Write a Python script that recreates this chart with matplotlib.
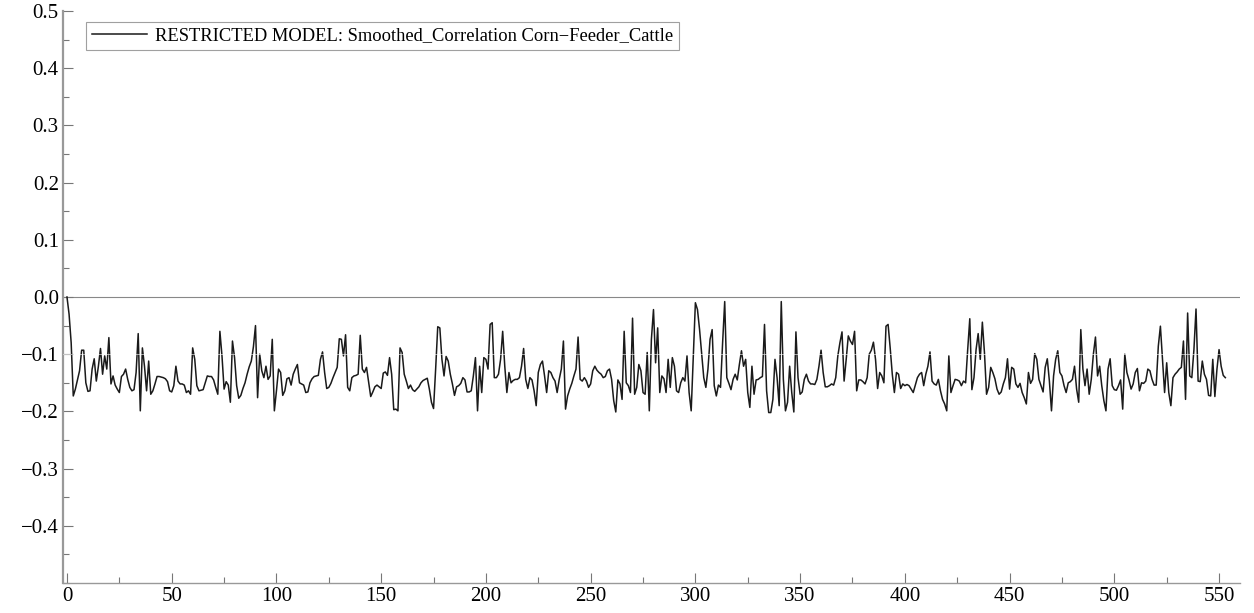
import matplotlib.pyplot as plt
import numpy as np
from matplotlib.ticker import MultipleLocator

plt.rcParams['font.family'] = ['Liberation Serif', 'DejaVu Serif']

series_label = "RESTRICTED MODEL: Smoothed_Correlation Corn\u2212Feeder_Cattle"

corr = [
    0.0, -0.03, -0.08, -0.173, -0.161, -0.145, -0.129, -0.093, -0.093, -0.150,
    -0.165, -0.164, -0.126, -0.108, -0.147, -0.121, -0.090, -0.135, -0.103, -0.126,
    -0.071, -0.152, -0.138, -0.154, -0.161, -0.167, -0.139, -0.135, -0.126, -0.144,
    -0.158, -0.164, -0.162, -0.132, -0.064, -0.199, -0.089, -0.121, -0.164, -0.112,
    -0.170, -0.164, -0.152, -0.139, -0.139, -0.140, -0.141, -0.143, -0.148, -0.164,
    -0.166, -0.155, -0.121, -0.147, -0.152, -0.152, -0.154, -0.167, -0.164, -0.170,
    -0.089, -0.109, -0.155, -0.164, -0.163, -0.162, -0.150, -0.138, -0.139, -0.139,
    -0.145, -0.158, -0.170, -0.060, -0.103, -0.161, -0.148, -0.154, -0.184, -0.077,
    -0.106, -0.155, -0.177, -0.172, -0.160, -0.150, -0.135, -0.122, -0.112, -0.087,
    -0.050, -0.176, -0.100, -0.129, -0.141, -0.121, -0.144, -0.138, -0.074, -0.199,
    -0.164, -0.126, -0.132, -0.172, -0.164, -0.143, -0.141, -0.154, -0.135, -0.126,
    -0.118, -0.150, -0.152, -0.154, -0.167, -0.166, -0.150, -0.143, -0.139, -0.138,
    -0.137, -0.109, -0.096, -0.132, -0.160, -0.158, -0.151, -0.141, -0.132, -0.123,
    -0.073, -0.074, -0.103, -0.066, -0.158, -0.164, -0.141, -0.138, -0.137, -0.135,
    -0.067, -0.126, -0.132, -0.123, -0.148, -0.174, -0.166, -0.157, -0.154, -0.157,
    -0.160, -0.133, -0.131, -0.137, -0.106, -0.135, -0.197, -0.196, -0.199, -0.089,
    -0.097, -0.135, -0.147, -0.160, -0.154, -0.162, -0.165, -0.161, -0.157, -0.150,
    -0.146, -0.144, -0.142, -0.161, -0.184, -0.195, -0.126, -0.052, -0.054, -0.109,
    -0.138, -0.104, -0.112, -0.135, -0.152, -0.172, -0.157, -0.155, -0.151, -0.141,
    -0.145, -0.166, -0.166, -0.164, -0.138, -0.106, -0.199, -0.121, -0.167, -0.106,
    -0.109, -0.126, -0.048, -0.045, -0.141, -0.141, -0.135, -0.109, -0.060, -0.121,
    -0.167, -0.132, -0.150, -0.146, -0.144, -0.144, -0.141, -0.121, -0.090, -0.144,
    -0.160, -0.141, -0.145, -0.164, -0.190, -0.132, -0.118, -0.112, -0.138, -0.167,
    -0.129, -0.132, -0.141, -0.147, -0.167, -0.144, -0.126, -0.077, -0.196, -0.173,
    -0.161, -0.151, -0.138, -0.126, -0.070, -0.144, -0.147, -0.141, -0.147, -0.158,
    -0.152, -0.129, -0.121, -0.128, -0.132, -0.135, -0.141, -0.139, -0.129, -0.126,
    -0.144, -0.181, -0.201, -0.145, -0.152, -0.179, -0.060, -0.150, -0.155, -0.167,
    -0.037, -0.170, -0.158, -0.118, -0.129, -0.167, -0.170, -0.097, -0.199, -0.074,
    -0.022, -0.115, -0.054, -0.167, -0.138, -0.143, -0.167, -0.109, -0.158, -0.106,
    -0.121, -0.164, -0.167, -0.150, -0.141, -0.147, -0.103, -0.167, -0.199, -0.103,
    -0.010, -0.022, -0.057, -0.100, -0.141, -0.158, -0.126, -0.074, -0.057, -0.155,
    -0.173, -0.154, -0.158, -0.080, -0.008, -0.141, -0.151, -0.162, -0.144, -0.135,
    -0.145, -0.118, -0.094, -0.121, -0.109, -0.167, -0.193, -0.121, -0.170, -0.145,
    -0.144, -0.141, -0.139, -0.048, -0.164, -0.202, -0.202, -0.179, -0.109, -0.141,
    -0.190, -0.008, -0.144, -0.199, -0.184, -0.121, -0.167, -0.201, -0.061, -0.141,
    -0.170, -0.166, -0.144, -0.135, -0.147, -0.152, -0.152, -0.153, -0.144, -0.121,
    -0.093, -0.132, -0.157, -0.157, -0.155, -0.152, -0.154, -0.141, -0.103, -0.080,
    -0.061, -0.147, -0.109, -0.068, -0.077, -0.083, -0.060, -0.164, -0.145, -0.145,
    -0.148, -0.152, -0.141, -0.100, -0.093, -0.079, -0.109, -0.160, -0.132, -0.138,
    -0.150, -0.051, -0.048, -0.089, -0.135, -0.167, -0.132, -0.135, -0.160, -0.152,
    -0.155, -0.153, -0.155, -0.161, -0.167, -0.154, -0.141, -0.135, -0.132, -0.155,
    -0.135, -0.121, -0.096, -0.147, -0.152, -0.154, -0.144, -0.164, -0.179, -0.187,
    -0.199, -0.103, -0.167, -0.155, -0.144, -0.145, -0.147, -0.155, -0.147, -0.150,
    -0.092, -0.038, -0.162, -0.141, -0.092, -0.064, -0.109, -0.044, -0.097, -0.170,
    -0.158, -0.123, -0.132, -0.143, -0.161, -0.170, -0.166, -0.152, -0.141, -0.108,
    -0.161, -0.123, -0.126, -0.152, -0.158, -0.151, -0.167, -0.176, -0.187, -0.132,
    -0.151, -0.144, -0.099, -0.109, -0.144, -0.155, -0.166, -0.123, -0.108, -0.147,
    -0.199, -0.138, -0.109, -0.094, -0.132, -0.138, -0.155, -0.167, -0.150, -0.148,
    -0.144, -0.121, -0.161, -0.184, -0.057, -0.126, -0.155, -0.126, -0.170, -0.144,
    -0.100, -0.070, -0.138, -0.121, -0.155, -0.181, -0.199, -0.126, -0.108, -0.155,
    -0.162, -0.163, -0.155, -0.145, -0.196, -0.100, -0.132, -0.145, -0.161, -0.152,
    -0.132, -0.125, -0.164, -0.150, -0.151, -0.147, -0.126, -0.129, -0.144, -0.154,
    -0.154, -0.086, -0.051, -0.109, -0.167, -0.115, -0.167, -0.190, -0.141, -0.135,
    -0.131, -0.126, -0.123, -0.077, -0.179, -0.028, -0.138, -0.141, -0.092, -0.021,
    -0.147, -0.148, -0.112, -0.135, -0.144, -0.172, -0.173, -0.109, -0.174, -0.126,
    -0.092, -0.121, -0.137, -0.141,
]

x_ticks = [0, 50, 100, 150, 200, 250, 300, 350, 400, 450, 500, 550]
y_ticks = [-0.4, -0.3, -0.2, -0.1, 0.0, 0.1, 0.2, 0.3, 0.4, 0.5]

fig = plt.figure(figsize=(12.54, 6.13), dpi=100)
ax = fig.add_axes([63 / 1254, 1 - 583 / 613, (1240 - 63) / 1254, (583 - 11) / 613])

t = np.arange(len(corr))
ax.axhline(0, color='#888888', lw=0.8, zorder=1)
ax.plot(t, corr, color='#1a1a1a', lw=1.1, label=series_label, zorder=2)
ax.axhline(-0.1, color='white', lw=0.5, alpha=0.8, zorder=3)

ax.set_xlim(-1.9, 560)
ax.set_ylim(-0.5, 0.5)
ax.set_xticks(x_ticks)
ax.set_yticks(y_ticks)
ax.set_yticklabels([f"{v:.1f}".replace('-', '\u2212') for v in y_ticks])
ax.xaxis.set_minor_locator(MultipleLocator(25))
ax.yaxis.set_minor_locator(MultipleLocator(0.05))

for side in ['top', 'right']:
    ax.spines[side].set_visible(False)
ax.spines['left'].set_color('#999999')
ax.spines['left'].set_linewidth(1.6)
ax.spines['bottom'].set_color('#999999')
ax.spines['bottom'].set_linewidth(1.0)

ax.tick_params(which='major', direction='in', length=7, width=0.8, color='#777777',
               labelsize=15, pad=3)
ax.tick_params(which='minor', direction='in', length=4, width=0.8, color='#777777')

leg = ax.legend(loc='upper left', bbox_to_anchor=(86 / 1254, 1 - 22 / 613),
                bbox_transform=fig.transFigure, borderaxespad=0, fontsize=13.3,
                frameon=True, fancybox=False, handlelength=3.0, handletextpad=0.45,
                borderpad=0.3)
leg.get_frame().set_edgecolor('#888888')
leg.get_frame().set_linewidth(0.8)

fig.savefig('out.png', dpi=100)
